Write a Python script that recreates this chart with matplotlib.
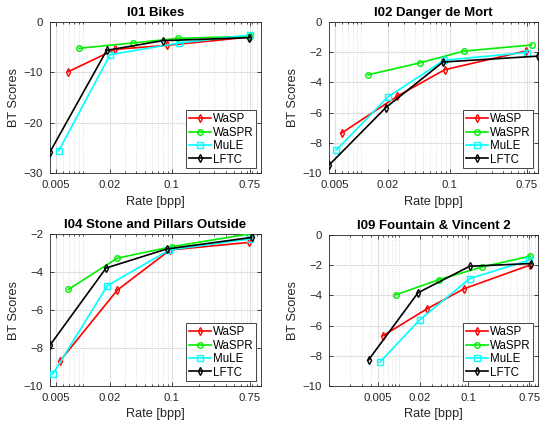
import numpy as np
import matplotlib
matplotlib.use("Agg")
import matplotlib.pyplot as plt
from matplotlib.ticker import FixedLocator, NullFormatter

titles = ["I01 Bikes", "I02 Danger de Mort", "I04 Stone and Pillars Outside", "I09 Fountain & Vincent 2"]
codecs = ["WaSP", "WaSPR", "MuLE", "LFTC"]
xtick_vals = [0.005, 0.02, 0.1, 0.75]
xtick_labels = ["0.005", "0.02", "0.1", "0.75"]

# I01 Bikes
i01_wasp_rate = [0.0069, 0.0231, 0.0875, 0.753]
i01_wasp_bt = [-9.87, -5.43, -4.64, -2.98]
i01_waspr_rate = [0.0091, 0.0364, 0.1165, 0.76]
i01_waspr_bt = [-5.23, -4.17, -3.25, -2.85]
i01_mule_rate = [0.0054, 0.0203, 0.121, 0.75]
i01_mule_bt = [-25.56, -6.49, -4.17, -2.58]
i01_lftc_rate = [0.0043, 0.0186, 0.079, 0.74]
i01_lftc_bt = [-25.83, -5.63, -3.71, -3.11]

# I02 Danger de Mort
i02_wasp_rate = [0.0060, 0.0256, 0.0877, 0.738]
i02_wasp_bt = [-7.35, -4.91, -3.16, -1.91]
i02_waspr_rate = [0.0119, 0.0457, 0.144, 0.847]
i02_waspr_bt = [-3.50, -2.71, -1.93, -1.52]
i02_mule_rate = [0.0052, 0.020, 0.0863, 0.752]
i02_mule_bt = [-8.48, -4.96, -2.53, -2.02]
i02_lftc_rate = [0.0043, 0.0189, 0.084, 1.0]
i02_lftc_bt = [-9.48, -5.67, -2.65, -2.26]

# I04 Stone and Pillars Outside
i04_wasp_rate = [0.00557, 0.0245, 0.0955, 0.74]
i04_wasp_bt = [-8.68, -4.95, -2.84, -2.44]
i04_waspr_rate = [0.0069, 0.0245, 0.0995, 0.728]
i04_waspr_bt = [-4.92, -3.27, -2.67, -2.0]
i04_mule_rate = [0.00461, 0.0189, 0.0937, 0.75]
i04_mule_bt = [-9.38, -4.72, -2.84, -2.26]
i04_lftc_rate = [0.0043, 0.0183, 0.0875, 0.787]
i04_lftc_bt = [-7.85, -3.79, -2.79, -2.18]

# I09 Fountain & Vincent 2
i09_wasp_rate = [0.00596, 0.0255, 0.0867, 0.758]
i09_wasp_bt = [-6.67, -4.89, -3.56, -2.0]
i09_waspr_rate = [0.00906, 0.0379, 0.159, 0.776]
i09_waspr_bt = [-3.96, -2.96, -2.11, -1.40]
i09_mule_rate = [0.00533, 0.020, 0.1045, 0.743]
i09_mule_bt = [-8.44, -5.62, -2.89, -1.67]
i09_lftc_rate = [0.0037, 0.019, 0.1045, 0.80]
i09_lftc_bt = [-8.27, -3.82, -2.07, -1.89]

data = [
    [(i01_wasp_rate, i01_wasp_bt), (i01_waspr_rate, i01_waspr_bt), (i01_mule_rate, i01_mule_bt), (i01_lftc_rate, i01_lftc_bt)],
    [(i02_wasp_rate, i02_wasp_bt), (i02_waspr_rate, i02_waspr_bt), (i02_mule_rate, i02_mule_bt), (i02_lftc_rate, i02_lftc_bt)],
    [(i04_wasp_rate, i04_wasp_bt), (i04_waspr_rate, i04_waspr_bt), (i04_mule_rate, i04_mule_bt), (i04_lftc_rate, i04_lftc_bt)],
    [(i09_wasp_rate, i09_wasp_bt), (i09_waspr_rate, i09_waspr_bt), (i09_mule_rate, i09_mule_bt), (i09_lftc_rate, i09_lftc_bt)],
]

xlims = [(0.0043, 1.0), (0.0043, 1.0), (0.0043, 1.0), (0.001, 1.0)]
ylims = [(-30, 0), (-10, 0), (-10, -2), (-10, 0)]
yticks = [[-30, -20, -10, 0], [-10, -8, -6, -4, -2, 0], [-10, -8, -6, -4, -2], [-10, -8, -6, -4, -2, 0]]

colors = ["#ff0000", "#00ee00", "#00ffff", "#000000"]
markers = ["d", "o", "s", "d"]

plt.rcParams['font.family'] = ['Liberation Sans', 'DejaVu Sans']

W, H = 546, 428
fig = plt.figure(figsize=(W / 100, H / 100), dpi=100)

# axes boxes in pixels: left, top, right, bottom
boxes = [(50, 22, 261, 173), (329, 22, 538, 173), (50, 234, 261, 386), (329, 235, 538, 386)]

minor_x = [m * 10.0 ** k for k in range(-4, 1) for m in range(1, 10)]

for i, (l, t, r, b) in enumerate(boxes):
    ax = fig.add_axes([l / W, 1 - b / H, (r - l) / W, (b - t) / H])
    ax.set_xscale('log')
    for j in range(4):
        xs, ys = data[i][j]
        ax.plot(xs, ys, color=colors[j], marker=markers[j], markersize=4,
                markerfacecolor='none', markeredgewidth=1.0, linewidth=1.2,
                label=codecs[j], zorder=3)
    ax.set_xlim(*xlims[i])
    ax.set_ylim(*ylims[i])
    ax.xaxis.set_major_locator(FixedLocator(xtick_vals))
    ax.set_xticklabels(xtick_labels)
    mins = [v for v in minor_x if xlims[i][0] <= v <= xlims[i][1] and all(abs(v - tv) / tv > 1e-6 for tv in xtick_vals)]
    ax.xaxis.set_minor_locator(FixedLocator(mins))
    ax.xaxis.set_minor_formatter(NullFormatter())
    ax.set_yticks(yticks[i])
    ax.grid(True, which='major', color='#e0e0e0', linewidth=0.8)
    ax.grid(True, which='minor', axis='x', color='#c8c8c8', linewidth=0.5, linestyle=(0, (1, 2)))
    ax.set_axisbelow(True)
    ax.tick_params(which='both', direction='in', top=True, right=True, labelsize=8.2,
                   colors='#262626', length=3, width=0.6)
    ax.tick_params(which='minor', length=1.5)
    ax.tick_params(axis='x', pad=5)
    ax.tick_params(axis='y', pad=5)
    for s in ax.spines.values():
        s.set_color('#262626')
        s.set_linewidth(0.6)
    ax.set_title(titles[i], fontsize=9.5, fontweight='bold', pad=4)
    ax.set_xlabel("Rate [bpp]", fontsize=9.2, color='#262626', labelpad=4)
    ax.set_ylabel("BT Scores", fontsize=9.2, color='#262626', labelpad=3)
    leg = ax.legend(loc='lower right', fontsize=8.3, frameon=True, fancybox=False,
                    edgecolor='#262626', framealpha=1, borderpad=0.25, labelspacing=0.12,
                    handlelength=1.9, handletextpad=0.2, borderaxespad=0.4)
    leg.get_frame().set_linewidth(0.6)

fig.savefig("out.png", dpi=100)
